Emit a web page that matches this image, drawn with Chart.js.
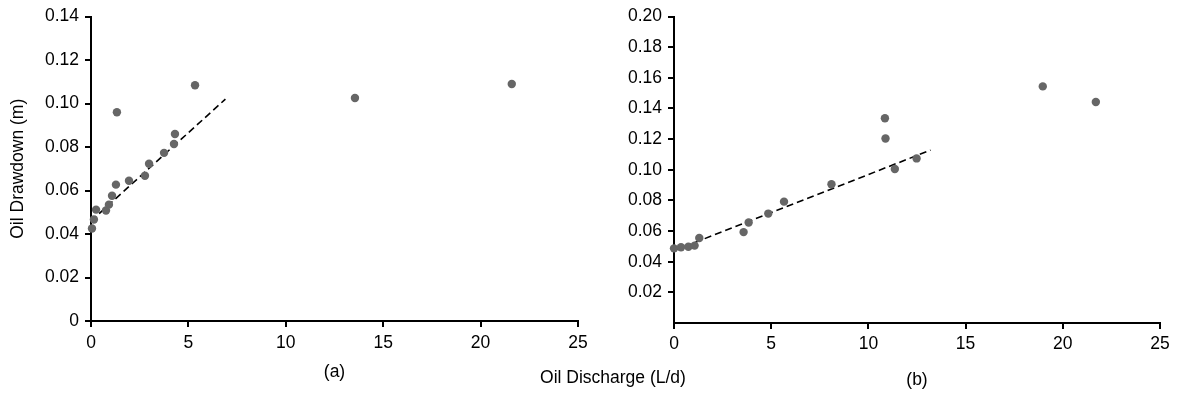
<!DOCTYPE html>
<html>
<head>
<meta charset="utf-8">
<script src="https://cdn.jsdelivr.net/npm/chart.js@4"></script>
<style>
  body { margin: 0; background: #fff; }
  #wrap { position: relative; width: 1178px; height: 396px; font-family: "Liberation Sans", Arial, sans-serif; }
  #chartA { position: absolute; left: 0; top: 0; }
  #chartB { position: absolute; left: 600px; top: 0; }
  #xlabel { position: absolute; left: 513px; width: 200px; top: 367px; text-align: center; font-size: 17.5px; color: #000; }
</style>
</head>
<body>
<div id="wrap">
  <canvas id="chartA" width="600" height="396"></canvas>
  <canvas id="chartB" width="578" height="396"></canvas>
  <div id="xlabel">Oil Discharge (L/d)</div>
</div>
<script>
// panel (a)
var dischargeA = [0.05, 0.15, 0.26, 0.77, 0.92, 1.08, 1.28, 1.33, 1.95, 2.77, 2.98, 3.75, 4.26, 4.31, 5.34, 13.55, 21.6]
var drawdownA = [0.0425, 0.0467, 0.0512, 0.0508, 0.0535, 0.0576, 0.0627, 0.096, 0.0645, 0.0668, 0.0723, 0.0773, 0.0814, 0.086, 0.1084, 0.1025, 0.109]
var trendXA = [0, 6.9]
var trendYA = [0.046, 0.102]

// panel (b)
var dischargeB = [0, 0.36, 0.74, 1.06, 1.3, 3.58, 3.84, 4.85, 5.66, 8.1, 10.85, 10.88, 11.36, 12.48, 18.97, 21.7]
var drawdownB = [0.0487, 0.0494, 0.0498, 0.0505, 0.0555, 0.0593, 0.0656, 0.0714, 0.0792, 0.0905, 0.1336, 0.1204, 0.1005, 0.1074, 0.1544, 0.1442]
var trendXB = [0, 13.2]
var trendYB = [0.0472, 0.1128]

var xTicks = [0, 5, 10, 15, 20, 25]

Chart.defaults.font.family = '"Liberation Sans", Arial, sans-serif'
Chart.defaults.font.size = 17.5
Chart.defaults.color = '#000'

function toPoints(xs, ys) {
  return xs.map((x, i) => ({ x: x, y: ys[i] }))
}

function axisStyle() {
  return {
    border: { display: true, color: '#000', width: 2 },
    grid: { display: true, drawOnChartArea: false, drawTicks: true, tickLength: 6, color: '#000', lineWidth: 2 }
  }
}

function makePanel(canvas, xs, ys, tx, ty, opts) {
  var xAxis = Object.assign(axisStyle(), {
    type: 'linear', min: 0, max: 25,
    afterBuildTicks: scale => { scale.ticks = xTicks.map(v => ({ value: v })) },
    ticks: { padding: opts.xPad, callback: v => '' + v },
    title: { display: true, text: opts.panel, padding: { top: opts.panelPad, bottom: opts.panelPad } },
    afterFit: scale => { scale.height = opts.xHeight }
  })
  var yAxis = Object.assign(axisStyle(), {
    type: 'linear', min: 0, max: opts.yMax,
    afterBuildTicks: scale => {
      var t = []
      for (var v = opts.yFrom; v <= opts.yMax + 1e-9; v += 0.02) t.push({ value: Math.round(v * 100) / 100 })
      scale.ticks = t
    },
    ticks: { padding: 6, callback: v => v === 0 ? '0' : v.toFixed(2) },
    title: { display: !!opts.yTitle, text: opts.yTitle, padding: { top: 8, bottom: 0 } },
    afterFit: scale => { scale.width = opts.yWidth }
  })

  new Chart(canvas, {
    type: 'scatter',
    data: {
      datasets: [{
        data: toPoints(xs, ys),
        backgroundColor: '#666666',
        borderWidth: 0,
        pointRadius: 4.2,
        clip: false,
        order: 1
      }, {
        type: 'line',
        data: toPoints(tx, ty),
        borderColor: '#000',
        borderWidth: 1.6,
        borderDash: [7, 4],
        pointRadius: 0,
        fill: false,
        order: 2
      }]
    },
    options: {
      responsive: false,
      animation: false,
      layout: { padding: opts.padding },
      plugins: { legend: { display: false }, tooltip: { enabled: false } },
      scales: { x: xAxis, y: yAxis }
    }
  })
}

makePanel(document.getElementById('chartA'), dischargeA, drawdownA, trendXA, trendYA, {
  panel: '(a)', panelPad: 13, xPad: 6, xHeight: 75, yMax: 0.14, yFrom: 0, yWidth: 91, yTitle: 'Oil Drawdown (m)',
  padding: { top: 15, right: 22, bottom: 0, left: 0 }
})

makePanel(document.getElementById('chartB'), dischargeB, drawdownB, trendXB, trendYB, {
  panel: '(b)', panelPad: 5, xPad: 5, xHeight: 73, yMax: 0.2, yFrom: 0.02, yWidth: 74, yTitle: '',
  padding: { top: 16, right: 18, bottom: 0, left: 0 }
})
</script>
</body>
</html>
